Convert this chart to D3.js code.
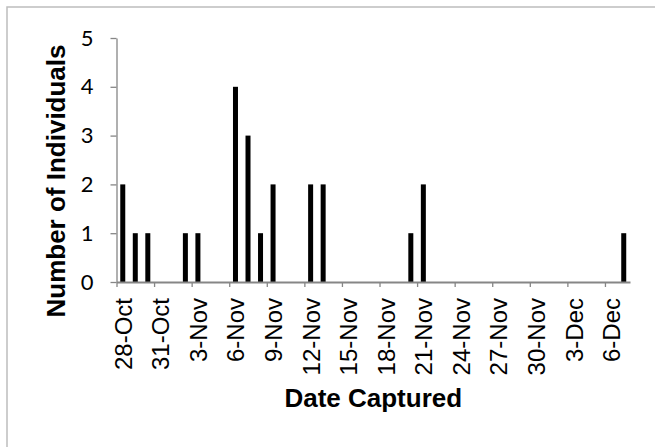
<!DOCTYPE html>
<html>
<head>
<meta charset="utf-8">
<script src="https://cdn.jsdelivr.net/npm/d3@7"></script>
<style>
  body { margin: 0; background: #fff; }
  svg { display: block; }
</style>
</head>
<body>
<div id="chart"></div>
<script>
// captures per day
const captureDates = ['2012-10-28', '2012-10-29', '2012-10-30', '2012-11-02', '2012-11-03', '2012-11-06', '2012-11-07',
    '2012-11-08', '2012-11-09', '2012-11-12', '2012-11-13', '2012-11-20', '2012-11-21', '2012-12-07'];
const captureCounts = [2, 1, 1, 1, 1, 4, 3, 1, 2, 2, 2, 1, 2, 1];
const axisStart = '2012-10-28';
const axisEnd = '2012-12-08';
const yTicks = [0, 1, 2, 3, 4, 5];

const parse = d3.utcParse('%Y-%m-%d');
const data = captureDates.map((d, i) => ({ date: parse(d), count: captureCounts[i] }));

const width = 655, height = 447;
const margin = { top: 38, right: 25, bottom: 165, left: 116.5 };
const plotW = 630 - margin.left;
const plotH = 282 - margin.top;

const svg = d3.select('#chart').append('svg').attr('width', width).attr('height', height);
svg.append('rect').attr('width', width).attr('height', height).attr('fill', '#fff');
svg.append('rect').attr('x', 7).attr('y', 7).attr('width', 800).attr('height', 600)
    .attr('fill', 'none').attr('stroke', '#bdbdbd').attr('stroke-width', 1.5);

const g = svg.append('g').attr('transform', `translate(${margin.left},${margin.top})`);

const x = d3.scaleUtc().domain([parse(axisStart), parse(axisEnd)]).range([0, plotW]);
const y = d3.scaleLinear().domain([0, 5]).range([plotH, 0]);
const halfDay = (x(d3.utcDay.offset(parse(axisStart), 1)) - x(parse(axisStart))) / 2;

// bars
g.selectAll('rect.bar')
    .data(data)
    .enter()
    .append('rect')
    .attr('class', 'bar')
    .attr('x', d => x(d.date) + halfDay - 2.5)
    .attr('width', 5)
    .attr('y', d => y(d.count))
    .attr('height', d => plotH - y(d.count))
    .attr('fill', '#000');

// y axis
const yAxisG = g.append('g').call(d3.axisLeft(y).tickValues(yTicks).tickFormat(d3.format('d')).tickSize(6).tickSizeOuter(0).tickPadding(17));
yAxisG.select('.domain').attr('stroke', '#868686').attr('stroke-width', 1.3);
yAxisG.selectAll('.tick line').attr('stroke', '#868686').attr('stroke-width', 1.3);
yAxisG.selectAll('.tick text').style('font-family', 'Lato, "Open Sans", sans-serif').style('font-size', '22px').attr('fill', '#000');

// x axis, ticks every 3 days, labels centred on the day
const xTickVals = d3.range(0, 41, 3).map(k => d3.utcDay.offset(parse(axisStart), k));
const xAxisG = g.append('g').attr('transform', `translate(0,${plotH})`)
    .call(d3.axisBottom(x).tickValues(xTickVals).tickSize(5).tickSizeOuter(0).tickFormat(d3.utcFormat('%-d-%b')));
xAxisG.select('.domain').attr('stroke', '#868686').attr('stroke-width', 2);
xAxisG.selectAll('.tick line').attr('stroke', '#868686').attr('stroke-width', 1.3);
xAxisG.selectAll('.tick text')
    .style('font-family', '"Liberation Sans", Arial, sans-serif').style('font-size', '24px').attr('fill', '#000')
    .attr('text-anchor', 'end')
    .attr('transform', `translate(${halfDay},16) rotate(-90)`)
    .attr('x', 0).attr('y', 0).attr('dy', '0.35em');

// titles
svg.append('text')
    .attr('transform', `translate(65,181) rotate(-90)`)
    .attr('text-anchor', 'middle')
    .style('font-family', '"Liberation Sans", Arial, sans-serif').style('font-size', '26px').style('font-weight', 'bold')
    .text('Number of Individuals');

svg.append('text')
    .attr('x', margin.left + plotW / 2).attr('y', 407)
    .attr('text-anchor', 'middle')
    .style('font-family', '"Liberation Sans", Arial, sans-serif').style('font-size', '26px').style('font-weight', 'bold')
    .text('Date Captured');
</script>
</body>
</html>
